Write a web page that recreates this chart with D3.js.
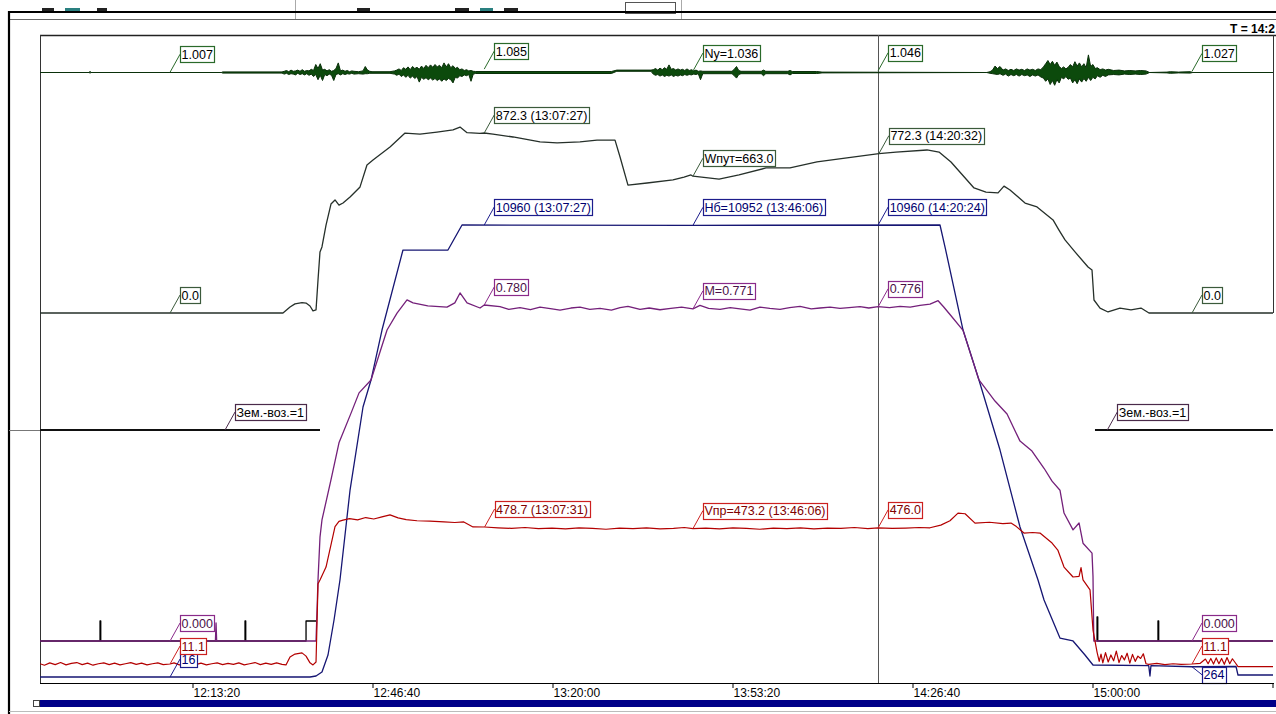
<!DOCTYPE html>
<html>
<head>
<meta charset="utf-8">
<script src="https://cdn.jsdelivr.net/npm/d3@7"></script>
<style>
  body { margin: 0; background: #fff; }
  svg { display: block; }
  text { font-family: "Liberation Sans", Arial, sans-serif; }
</style>
</head>
<body>
<svg id="chart" width="1276" height="714"></svg>
<script>
// time axis
const timeDomain = ['11:45:11', '15:33:31'];
const tickTimes = ['12:13:20', '12:46:40', '13:20:00', '13:53:20', '14:26:40', '15:00:00', '15:33:20'];
const cursorTime = '14:20:24';
const cursorLabel = 'T = 14:2';

// Ny, recorded as [time, min, max] per interval
const nyEnvelope = [
  ['11:45:11', 1.0, 1.0], ['11:54:20', 1.0, 1.0], ['11:54:27', 0.98, 1.03], ['11:54:35', 1.0, 1.0],
  ['12:18:50', 1.0, 1.0], ['12:19:00', 0.985, 1.015], ['12:30:00', 0.985, 1.015],
  ['12:30:25', 0.96, 1.03], ['12:30:50', 0.98, 1.05], ['12:31:15', 0.95, 1.02], ['12:31:40', 0.97, 1.06],
  ['12:32:05', 0.96, 1.03], ['12:32:30', 0.94, 1.04], ['12:32:55', 0.98, 1.06], ['12:33:20', 0.95, 1.03],
  ['12:33:45', 0.97, 1.07], ['12:34:10', 0.94, 1.03], ['12:34:35', 0.97, 1.05], ['12:35:00', 0.93, 1.04],
  ['12:35:25', 0.96, 1.08], ['12:35:50', 0.90, 1.05], ['12:36:15', 0.95, 1.20], ['12:36:40', 0.82, 1.10],
  ['12:37:05', 0.93, 1.22], ['12:37:30', 0.80, 1.06], ['12:37:55', 0.95, 1.08], ['12:38:20', 0.92, 1.04],
  ['12:38:45', 0.96, 1.07], ['12:39:10', 0.93, 1.03], ['12:39:35', 0.80, 1.05], ['12:40:00', 0.95, 1.10],
  ['12:40:25', 0.97, 1.24], ['12:40:50', 0.94, 1.04], ['12:41:15', 0.97, 1.06], ['12:41:40', 0.95, 1.03],
  ['12:42:05', 0.97, 1.05], ['12:42:30', 0.96, 1.02], ['12:42:55', 0.98, 1.04], ['12:43:20', 0.96, 1.03],
  ['12:44:10', 0.97, 1.02], ['12:45:00', 0.96, 1.04], ['12:45:25', 0.97, 1.15], ['12:45:50', 0.97, 1.06],
  ['12:46:15', 0.98, 1.03], ['12:46:40', 0.98, 1.02], ['12:50:00', 0.98, 1.02], ['12:50:50', 0.96, 1.04],
  ['12:51:15', 0.93, 1.06], ['12:51:40', 0.96, 1.09], ['12:52:05', 0.90, 1.05], ['12:52:30', 0.94, 1.12],
  ['12:52:55', 0.88, 1.08], ['12:53:20', 0.93, 1.14], ['12:53:45', 0.86, 1.07], ['12:54:10', 0.91, 1.15],
  ['12:54:35', 0.85, 1.10], ['12:55:00', 0.90, 1.13], ['12:55:25', 0.76, 1.08], ['12:55:50', 0.88, 1.16],
  ['12:56:15', 0.83, 1.10], ['12:56:40', 0.87, 1.18], ['12:57:05', 0.82, 1.12], ['12:57:30', 0.86, 1.19],
  ['12:57:55', 0.81, 1.13], ['12:58:20', 0.85, 1.20], ['12:58:45', 0.80, 1.14], ['12:59:10', 0.84, 1.18],
  ['12:59:35', 0.78, 1.12], ['13:00:00', 0.84, 1.24], ['13:00:25', 0.80, 1.14], ['13:00:50', 0.85, 1.22],
  ['13:01:15', 0.82, 1.12], ['13:01:40', 0.74, 1.17], ['13:02:05', 0.88, 1.10], ['13:02:30', 0.86, 1.13],
  ['13:02:55', 0.92, 1.07], ['13:03:20', 0.90, 1.09], ['13:03:45', 0.94, 1.05], ['13:04:10', 0.92, 1.07],
  ['13:04:35', 0.95, 1.04], ['13:05:00', 0.78, 1.05], ['13:05:25', 0.96, 1.03], ['13:05:50', 0.975, 1.025],
  ['13:31:00', 0.975, 1.025], ['13:32:00', 1.03, 1.06], ['13:38:20', 1.03, 1.06],
  ['13:38:45', 0.96, 1.07], ['13:39:10', 0.93, 1.10], ['13:39:35', 0.95, 1.06], ['13:40:00', 0.91, 1.11],
  ['13:40:25', 0.94, 1.07], ['13:40:50', 0.90, 1.12], ['13:41:15', 0.93, 1.08], ['13:41:40', 0.91, 1.19],
  ['13:42:05', 0.94, 1.08], ['13:42:30', 0.90, 1.10], ['13:42:55', 0.93, 1.06], ['13:43:20', 0.91, 1.09],
  ['13:43:45', 0.94, 1.06], ['13:44:10', 0.92, 1.08], ['13:44:35', 0.95, 1.05], ['13:45:00', 0.93, 1.09],
  ['13:45:25', 0.95, 1.05], ['13:45:50', 0.94, 1.07], ['13:46:15', 0.96, 1.04], ['13:46:40', 0.95, 1.06],
  ['13:47:05', 0.97, 1.03], ['13:47:30', 0.82, 1.04], ['13:47:55', 0.97, 1.03], ['13:53:20', 0.97, 1.03],
  ['13:53:45', 0.92, 1.08], ['13:54:10', 0.86, 1.15], ['13:54:35', 0.95, 1.05], ['13:55:00', 0.97, 1.03],
  ['13:58:45', 0.97, 1.03], ['13:59:10', 0.92, 1.06], ['13:59:35', 0.97, 1.03], ['14:03:40', 0.97, 1.03],
  ['14:04:05', 0.94, 1.05], ['14:04:30', 0.975, 1.025], ['14:09:00', 0.975, 1.025], ['14:10:00', 0.99, 1.01],
  ['14:40:30', 1.0, 1.0], ['14:41:07', 0.98, 1.02], ['14:41:35', 0.97, 1.06], ['14:42:02', 0.96, 1.16],
  ['14:42:30', 0.95, 1.10], ['14:42:58', 0.97, 1.15], ['14:43:31', 0.93, 1.06], ['14:44:00', 0.96, 1.09],
  ['14:44:30', 0.91, 1.05], ['14:45:00', 0.95, 1.08], ['14:45:30', 0.92, 1.05], ['14:46:00', 0.95, 1.09],
  ['14:46:30', 0.91, 1.06], ['14:47:00', 0.95, 1.08], ['14:47:30', 0.92, 1.05], ['14:48:00', 0.94, 1.09],
  ['14:48:30', 0.90, 1.06], ['14:49:00', 0.94, 1.08], ['14:49:30', 0.91, 1.05], ['14:50:00', 0.94, 1.09],
  ['14:50:30', 0.89, 1.07], ['14:51:00', 0.86, 1.14], ['14:51:25', 0.78, 1.22], ['14:51:50', 0.84, 1.30],
  ['14:52:15', 0.70, 1.20], ['14:52:40', 0.80, 1.28], ['14:53:05', 0.68, 1.18], ['14:53:30', 0.82, 1.26],
  ['14:53:55', 0.74, 1.15], ['14:54:20', 0.88, 1.10], ['14:54:45', 0.84, 1.14], ['14:55:10', 0.90, 1.09],
  ['14:55:35', 0.83, 1.13], ['14:56:00', 0.86, 1.20], ['14:56:25', 0.74, 1.14], ['14:56:50', 0.82, 1.27],
  ['14:57:15', 0.72, 1.16], ['14:57:40', 0.84, 1.24], ['14:58:05', 0.76, 1.14], ['14:58:30', 0.85, 1.22],
  ['14:58:55', 0.78, 1.12], ['14:59:20', 0.88, 1.44], ['14:59:45', 0.80, 1.15], ['15:00:10', 0.88, 1.20],
  ['15:00:35', 0.84, 1.10], ['15:01:00', 0.92, 1.12], ['15:01:30', 0.88, 1.07], ['15:02:00', 0.93, 1.09],
  ['15:02:30', 0.90, 1.06], ['15:03:00', 0.94, 1.08], ['15:04:00', 0.95, 1.05], ['15:05:00', 0.94, 1.06],
  ['15:06:00', 0.96, 1.04], ['15:07:00', 0.95, 1.05], ['15:08:00', 0.96, 1.04], ['15:09:00', 0.95, 1.05],
  ['15:10:00', 0.96, 1.04], ['15:10:40', 1.0, 1.0], ['15:13:53', 0.99, 1.01], ['15:14:30', 0.98, 1.02],
  ['15:16:00', 0.99, 1.01], ['15:18:09', 0.985, 1.02], ['15:18:40', 1.0, 1.0], ['15:33:31', 1.0, 1.0]
];
const nyLabels = [
  ['12:09:16', 1.007, '1.007'], ['13:07:27', 1.085, '1.085'], ['13:46:06', 1.036, 'Ny=1.036'],
  ['14:20:24', 1.046, '1.046'], ['15:18:31', 1.027, '1.027']
];

// ground speed, km/h
const wput = [
  ['11:45:11', 0], ['12:30:11', 0], ['12:31:29', 29], ['12:32:24', 44], ['12:33:42', 50], ['12:34:27', 48],
  ['12:35:11', 34], ['12:35:44', 10], ['12:36:18', 15], ['12:36:40', 160], ['12:37:02', 296], ['12:37:24', 320],
  ['12:38:09', 426], ['12:39:04', 528], ['12:39:49', 548], ['12:40:33', 523], ['12:41:18', 533], ['12:42:36', 562],
  ['12:44:27', 611], ['12:45:44', 717], ['12:46:51', 741], ['12:50:00', 804], ['12:52:47', 872], ['12:55:33', 867],
  ['12:58:42', 877], ['13:01:40', 887], ['13:02:58', 901], ['13:04:16', 874], ['13:06:40', 870], ['13:07:27', 872.3],
  ['13:09:04', 867], ['13:12:47', 853], ['13:17:47', 829], ['13:20:56', 824], ['13:25:11', 829], ['13:28:20', 838],
  ['13:31:40', 838], ['13:32:36', 756], ['13:34:04', 620], ['13:37:36', 630], ['13:42:24', 645], ['13:44:27', 659],
  ['13:45:44', 669], ['13:46:06', 663], ['13:50:56', 649], ['13:54:38', 669], ['13:59:38', 703], ['14:04:04', 703],
  ['14:09:04', 732], ['14:14:16', 751], ['14:20:32', 772.3], ['14:23:42', 780], ['14:29:27', 790], ['14:31:40', 780],
  ['14:33:53', 732], ['14:38:09', 606], ['14:40:22', 586], ['14:42:36', 582], ['14:43:42', 615], ['14:44:49', 596],
  ['14:47:36', 533], ['14:49:49', 514], ['14:52:47', 451], ['14:53:53', 402], ['14:55:00', 354], ['14:56:51', 296],
  ['14:59:16', 223], ['15:00:00', 208], ['15:00:22', 63], ['15:01:29', 24], ['15:02:58', 5], ['15:05:11', 24],
  ['15:07:13', 15], ['15:09:04', 24], ['15:10:33', 0], ['15:33:31', 0]
];
const wputLabels = [
  ['12:09:16', 0, '0.0'], ['13:07:27', 872.3, '872.3 (13:07:27)'], ['13:46:06', 663.0, 'Wпут=663.0'],
  ['14:20:32', 772.3, '772.3 (14:20:32)'], ['15:18:31', 0, '0.0']
];

// barometric altitude, m
const hb = [
  ['11:45:11', 16], ['12:35:11', 16], ['12:36:18', 40], ['12:37:24', 137], ['12:38:31', 549], ['12:39:38', 1396],
  ['12:40:44', 2364], ['12:42:36', 4543], ['12:45:00', 6553], ['12:46:29', 7206], ['12:48:31', 8417],
  ['12:52:24', 10354], ['13:00:44', 10354], ['13:03:20', 10960], ['13:46:06', 10952], ['14:31:51', 10960],
  ['14:32:47', 10426], ['14:36:07', 8417], ['14:39:04', 7206], ['14:42:58', 5511], ['14:46:40', 3647],
  ['14:50:00', 2364], ['14:51:07', 1880], ['14:54:04', 960], ['14:56:29', 888], ['14:58:42', 549],
  ['15:00:11', 306], ['15:10:30', 290], ['15:10:44', 40], ['15:10:55', 290], ['15:18:31', 264],
  ['15:26:40', 270], ['15:27:02', 64], ['15:33:31', 64]
];
const hbLabels = [
  ['12:09:16', 16, '16'], ['13:07:27', 10960, '10960 (13:07:27)'], ['13:46:06', 10952, 'Нб=10952 (13:46:06)'],
  ['14:20:24', 10960, '10960 (14:20:24)'], ['15:18:31', 264, '264', 'down']
];

// Mach number
const mach = [
  ['11:45:11', 0], ['12:17:40', 0], ['12:17:47', 0.042], ['12:17:54', 0], ['12:36:18', 0], ['12:36:40', 0.142],
  ['12:37:02', 0.241], ['12:37:24', 0.281], ['12:39:04', 0.374], ['12:40:33', 0.460], ['12:42:47', 0.529],
  ['12:44:16', 0.576], ['12:46:29', 0.606], ['12:49:27', 0.722], ['12:51:18', 0.761], ['12:53:09', 0.792],
  ['12:54:16', 0.785], ['12:57:00', 0.778], ['13:00:33', 0.775], ['13:02:00', 0.785], ['13:02:58', 0.808],
  ['13:04:16', 0.785], ['13:06:40', 0.773], ['13:07:27', 0.780], ['13:10:22', 0.776], ['13:12:00', 0.770],
  ['13:14:04', 0.774], ['13:16:00', 0.769], ['13:17:47', 0.775], ['13:20:00', 0.771], ['13:21:29', 0.768],
  ['13:23:30', 0.773], ['13:25:11', 0.775], ['13:27:00', 0.770], ['13:28:53', 0.772], ['13:31:00', 0.768],
  ['13:32:36', 0.774], ['13:34:04', 0.777], ['13:36:18', 0.770], ['13:38:00', 0.773], ['13:40:00', 0.769],
  ['13:42:00', 0.772], ['13:44:00', 0.775], ['13:46:06', 0.771], ['13:47:24', 0.779], ['13:49:00', 0.772],
  ['13:51:07', 0.770], ['13:53:00', 0.774], ['13:54:49', 0.771], ['13:56:40', 0.768], ['13:58:31', 0.775],
  ['14:00:20', 0.772], ['14:02:13', 0.770], ['14:04:00', 0.774], ['14:05:56', 0.777], ['14:08:00', 0.771],
  ['14:09:38', 0.773], ['14:11:30', 0.775], ['14:13:20', 0.772], ['14:15:00', 0.774], ['14:17:02', 0.776],
  ['14:18:40', 0.773], ['14:20:24', 0.776], ['14:22:30', 0.774], ['14:24:27', 0.777], ['14:26:20', 0.775],
  ['14:28:09', 0.779], ['14:30:00', 0.782], ['14:31:30', 0.790], ['14:32:30', 0.776], ['14:33:42', 0.758],
  ['14:36:07', 0.721], ['14:39:04', 0.606], ['14:42:02', 0.557], ['14:44:16', 0.527], ['14:46:40', 0.464],
  ['14:48:53', 0.441], ['14:51:07', 0.401], ['14:52:36', 0.371], ['14:54:04', 0.350], ['14:54:49', 0.297],
  ['14:56:29', 0.258], ['14:57:36', 0.274], ['14:58:20', 0.227], ['15:00:00', 0.204], ['15:00:11', 0.150],
  ['15:00:20', 0], ['15:33:31', 0]
];
const machLabels = [
  ['12:09:16', 0, '0.000'], ['13:07:27', 0.780, '0.780'], ['13:46:06', 0.771, 'M=0.771'],
  ['14:20:24', 0.776, '0.776'], ['15:18:31', 0, '0.000']
];

// indicated airspeed, km/h
const vpr = [
  ['11:45:11', 12], ['11:46:00', 7], ['11:47:00', 15], ['11:48:00', 9], ['11:49:00', 16], ['11:50:00', 8],
  ['11:51:00', 13], ['11:52:00', 16], ['11:53:00', 9], ['11:54:00', 14], ['11:55:00', 7], ['11:56:00', 12],
  ['11:57:00', 15], ['11:58:00', 9], ['11:59:00', 14], ['12:00:00', 8], ['12:01:00', 12], ['12:02:00', 16],
  ['12:03:00', 10], ['12:04:00', 14], ['12:05:00', 8], ['12:06:00', 12], ['12:07:00', 15], ['12:08:00', 9],
  ['12:09:16', 11.1], ['12:10:00', 15], ['12:11:00', 8], ['12:12:00', 12], ['12:13:00', 16], ['12:14:00', 9],
  ['12:15:00', 14], ['12:16:00', 8], ['12:17:00', 12], ['12:18:00', 15], ['12:19:00', 9], ['12:20:00', 13],
  ['12:21:00', 10], ['12:22:00', 15], ['12:23:00', 8], ['12:24:00', 12], ['12:25:00', 16], ['12:26:00', 9],
  ['12:27:00', 14], ['12:28:00', 10], ['12:29:00', 15], ['12:30:00', 10], ['12:30:44', 8], ['12:31:29', 35],
  ['12:32:24', 45], ['12:33:42', 49], ['12:34:27', 38], ['12:35:11', 15], ['12:35:44', 8], ['12:36:18', 18],
  ['12:36:40', 285], ['12:37:02', 298], ['12:38:09', 342], ['12:39:49', 480], ['12:40:33', 498], ['12:41:18', 502],
  ['12:42:30', 507], ['12:44:00', 503], ['12:45:30', 511], ['12:47:00', 506], ['12:48:30', 513], ['12:50:00', 520],
  ['12:51:30', 510], ['12:53:00', 504], ['12:55:00', 500], ['12:57:24', 499], ['13:00:00', 496], ['13:02:00', 494],
  ['13:03:40', 496], ['13:05:22', 479], ['13:07:31', 478.7], ['13:10:00', 476], ['13:12:30', 474], ['13:15:00', 477],
  ['13:17:30', 473], ['13:20:00', 475], ['13:22:30', 472], ['13:25:00', 476], ['13:27:30', 474], ['13:30:00', 471],
  ['13:32:30', 475], ['13:35:00', 473], ['13:37:30', 476], ['13:40:00', 472], ['13:42:30', 474], ['13:44:30', 477],
  ['13:46:06', 473.2], ['13:48:30', 475], ['13:51:00', 472], ['13:53:30', 476], ['13:56:00', 474], ['13:58:30', 471],
  ['14:01:00', 475], ['14:03:30', 473], ['14:06:00', 476], ['14:08:30', 472], ['14:11:00', 475], ['14:13:30', 474],
  ['14:16:00', 477], ['14:18:30', 473], ['14:20:24', 476.0], ['14:23:00', 474], ['14:25:30', 475], ['14:28:00', 477],
  ['14:30:00', 476], ['14:32:00', 485], ['14:33:42', 500], ['14:35:11', 526], ['14:36:30', 524], ['14:38:20', 492],
  ['14:41:00', 495], ['14:43:30', 490], ['14:45:00', 492], ['14:46:00', 480], ['14:47:24', 458], ['14:49:00', 460],
  ['14:50:22', 458], ['14:52:36', 424], ['14:53:40', 400], ['14:54:49', 342], ['14:56:29', 308], ['14:57:36', 310],
  ['14:57:58', 340], ['14:58:20', 298], ['14:59:38', 264], ['15:00:11', 127], ['15:00:56', 52], ['15:01:20', 20],
  ['15:01:40', 45], ['15:02:00', 15], ['15:02:30', 50], ['15:03:00', 18], ['15:03:30', 42], ['15:04:00', 22],
  ['15:04:30', 55], ['15:05:00', 16], ['15:05:30', 40], ['15:06:00', 25], ['15:06:30', 48], ['15:07:00', 14],
  ['15:07:30', 44], ['15:08:00', 20], ['15:08:30', 38], ['15:09:00', 30], ['15:09:30', 46], ['15:10:00', 12],
  ['15:10:30', 10], ['15:12:00', 13], ['15:13:30', 9], ['15:15:00', 12], ['15:16:30', 10], ['15:18:31', 11.1],
  ['15:20:00', 13], ['15:21:00', 28], ['15:21:30', 12], ['15:22:00', 30], ['15:22:30', 11], ['15:23:00', 32],
  ['15:23:30', 12], ['15:24:00', 30], ['15:24:30', 10], ['15:25:00', 33], ['15:25:30', 12], ['15:26:00', 29],
  ['15:26:40', 12], ['15:27:02', 2], ['15:33:31', 2]
];
const vprLabels = [
  ['12:09:16', 11.1, '11.1'], ['13:07:31', 478.7, '478.7 (13:07:31)'], ['13:46:06', 473.2, 'Vпр=473.2 (13:46:06)'],
  ['14:20:24', 476.0, '476.0'], ['15:18:31', 11.1, '11.1']
];

// ground/air discrete (drawn only when = 1)
const groundAir = [
  ['11:45:11', 1], ['12:37:02', 1], ['12:37:03', 0], ['15:00:32', 0], ['15:00:33', 1], ['15:33:31', 1]
];
const groundAirLabels = [['12:19:27', 1, 'Зем.-воз.=1'], ['15:02:50', 1, 'Зем.-воз.=1']];

// black discrete pulses on the M baseline (null = not recorded)
const pulses = [
  ['11:45:11', 0], ['11:56:10', 0], ['11:56:18', 1], ['11:56:26', 0], ['12:23:01', 0], ['12:23:09', 1],
  ['12:23:17', 0], ['12:34:27', 1], ['12:36:18', 1], ['12:36:30', null], ['15:00:50', 0], ['15:00:56', 1.2],
  ['15:01:04', 0], ['15:12:05', 0], ['15:12:13', 1], ['15:12:21', 0], ['15:33:31', 0]
];

const parseTime = d3.timeParse('%H:%M:%S');
const toPts = (arr) => arr.map(([t, v]) => ({ t: parseTime(t), v }));

const plot = { left: 40, right: 1273, top: 35, bottom: 683 };
const svg = d3.select('#chart');

const x = d3.scaleTime().domain(timeDomain.map(parseTime)).range([plot.left, plot.right]);

const yNy = d3.scaleLinear().domain([1.0, 1.2]).range([72.5, 64.5]);
const yWput = d3.scaleLinear().domain([0, 872.3]).range([313, 133]);
const yHb = d3.scaleLinear().domain([16, 10960]).range([677, 225]);
const yMach = d3.scaleLinear().domain([0, 0.78]).range([641, 305]);
const yVpr = d3.scaleLinear().domain([11.1, 478.7]).range([664, 527]);
const yGround = d3.scaleLinear().domain([0, 1]).range([460, 430]);
const yPulse = d3.scaleLinear().domain([0, 1]).range([641, 621]);

// window chrome
const chrome = svg.append('g');
[[42, 12], [97, 10], [357, 13], [455, 14], [504, 14]].forEach(([cx, w]) =>
  chrome.append('rect').attr('x', cx).attr('y', 8).attr('width', w).attr('height', 3).attr('fill', '#222'));
[[65, 15], [480, 13]].forEach(([cx, w]) =>
  chrome.append('rect').attr('x', cx).attr('y', 8).attr('width', w).attr('height', 3).attr('fill', '#2a8080'));
chrome.append('rect').attr('x', 625.5).attr('y', 2.5).attr('width', 50).attr('height', 11)
  .attr('fill', 'none').attr('stroke', '#555');
[295, 681].forEach((vx) => chrome.append('line').attr('x1', vx + 0.5).attr('x2', vx + 0.5)
  .attr('y1', 0).attr('y2', 20).attr('stroke', '#aaa'));
chrome.append('line').attr('x1', 8).attr('x2', 1276).attr('y1', 12).attr('y2', 12)
  .attr('stroke', '#000').attr('stroke-width', 2.2);
chrome.append('line').attr('x1', 9).attr('x2', 1276).attr('y1', 19.5).attr('y2', 19.5)
  .attr('stroke', '#666').attr('stroke-width', 1);
chrome.append('line').attr('x1', 9).attr('x2', 9).attr('y1', 11).attr('y2', 714)
  .attr('stroke', '#000').attr('stroke-width', 2.2);
chrome.append('line').attr('x1', 9).attr('x2', 1276).attr('y1', 711.5).attr('y2', 711.5)
  .attr('stroke', '#bbb');
chrome.append('line').attr('x1', 9).attr('x2', plot.left).attr('y1', 430.5).attr('y2', 430.5)
  .attr('stroke', '#777');
chrome.append('text').attr('x', 1275).attr('y', 33).attr('text-anchor', 'end')
  .attr('font-size', 12).attr('font-weight', 'bold').text(cursorLabel);

// scroll bar
chrome.append('rect').attr('x', plot.left).attr('y', 700).attr('width', 1236).attr('height', 7)
  .attr('fill', '#000088');
chrome.append('rect').attr('x', 33.5).attr('y', 700.5).attr('width', 6).attr('height', 6)
  .attr('fill', '#fff').attr('stroke', '#444');

// plot frame
svg.append('line').attr('x1', plot.left).attr('x2', 1276).attr('y1', plot.top + 0.5).attr('y2', plot.top + 0.5)
  .attr('stroke', '#222').attr('stroke-width', 1.4);
svg.append('line').attr('x1', plot.left + 0.5).attr('x2', plot.left + 0.5).attr('y1', plot.top).attr('y2', plot.bottom)
  .attr('stroke', '#333');
svg.append('line').attr('x1', plot.right + 0.5).attr('x2', plot.right + 0.5).attr('y1', plot.top).attr('y2', yWput(0))
  .attr('stroke', '#333');

svg.append('clipPath').attr('id', 'clip').append('rect')
  .attr('x', plot.left).attr('y', plot.top).attr('width', plot.right - plot.left).attr('height', plot.bottom - plot.top);

// cursor
const cx = Math.round(x(parseTime(cursorTime))) + 0.5;
svg.append('line').attr('x1', cx).attr('x2', cx)
  .attr('y1', plot.top).attr('y2', plot.bottom).attr('stroke', '#555');

const traces = svg.append('g').attr('clip-path', 'url(#clip)')
  .attr('fill', 'none').attr('stroke-linejoin', 'round');

// Ny
const nyData = nyEnvelope.map(([t, lo, hi]) => ({ t: parseTime(t), lo, hi }));
traces.append('path').datum(nyData)
  .attr('d', d3.area().x((d) => x(d.t)).y0((d) => yNy(d.lo)).y1((d) => yNy(d.hi)))
  .attr('fill', '#0c4a0c').attr('stroke', '#0a300a').attr('stroke-width', 1);

function drawLine(data, y, color, width, curve) {
  const line = d3.line().defined((d) => d.v != null).x((d) => x(d.t)).y((d) => y(d.v));
  if (curve) line.curve(curve);
  traces.append('path').datum(toPts(data)).attr('d', line)
    .attr('stroke', color).attr('stroke-width', width);
}

drawLine(wput, yWput, '#26302a', 1.3);
traces.append('path').datum(toPts(groundAir))
  .attr('d', d3.line().defined((d) => d.v === 1).x((d) => x(d.t)).y((d) => yGround(d.v)))
  .attr('stroke', '#111').attr('stroke-width', 1.8);
drawLine(hb, yHb, '#161673', 1.3);
drawLine(pulses, yPulse, '#000', 1.3, d3.curveStepAfter);
drawLine(mach, yMach, '#74207a', 1.3);
drawLine(vpr, yVpr, '#b30000', 1.2);

// value labels
const labelLayer = svg.append('g');
function drawLabels(list, y, color, textColor) {
  list.forEach(([t, v, txt, side]) => {
    const ax = x(parseTime(t));
    const ay = y(v);
    const cy = side === 'down' ? ay + 8 : ay - 18;
    const g = labelLayer.append('g');
    g.append('line').attr('x1', ax).attr('y1', ay).attr('x2', ax + 10).attr('y2', cy)
      .attr('stroke', color).attr('stroke-width', 1);
    const rect = g.append('rect');
    const text = g.append('text').attr('x', ax + 11.5).attr('y', cy + 4.5)
      .attr('font-size', 12.5).attr('fill', textColor).text(txt);
    const w = text.node().getComputedTextLength();
    rect.attr('x', Math.round(ax + 10) + 0.5).attr('y', Math.round(cy - 8) + 0.5)
      .attr('width', Math.round(w + 3)).attr('height', 16)
      .attr('fill', '#fff').attr('stroke', color).attr('stroke-width', 1.2);
  });
}
drawLabels(nyLabels, yNy, '#2a6a2a', '#000');
drawLabels(wputLabels, yWput, '#3b5a3b', '#000');
drawLabels(hbLabels, yHb, '#1c1c8c', '#000070');
drawLabels(machLabels, yMach, '#8a2a8a', '#4a1048');
drawLabels(vprLabels, yVpr, '#cc2020', '#800000');
drawLabels(groundAirLabels, yGround, '#4a2a4a', '#000');

// time axis (a label that would run off the window is left out, its tick stays)
const fmt = d3.timeFormat('%H:%M:%S');
svg.append('line').attr('x1', plot.left).attr('x2', plot.right + 1).attr('y1', plot.bottom + 0.5).attr('y2', plot.bottom + 0.5)
  .attr('stroke', '#000');
svg.append('g').attr('transform', `translate(0.5,${plot.bottom})`)
  .call(d3.axisBottom(x)
    .tickValues(tickTimes.map(parseTime))
    .tickFormat((d) => (x(d) + 50 > 1276 ? '' : fmt(d)))
    .tickSize(5)
    .tickPadding(0))
  .call((g) => g.select('.domain').remove())
  .call((g) => g.attr('font-size', 12).attr('font-family', '"Liberation Sans", Arial, sans-serif'))
  .call((g) => g.selectAll('text').attr('text-anchor', 'start').attr('x', 0.5).attr('fill', '#000'))
  .call((g) => g.selectAll('line').attr('stroke', '#000'));
</script>
</body>
</html>
